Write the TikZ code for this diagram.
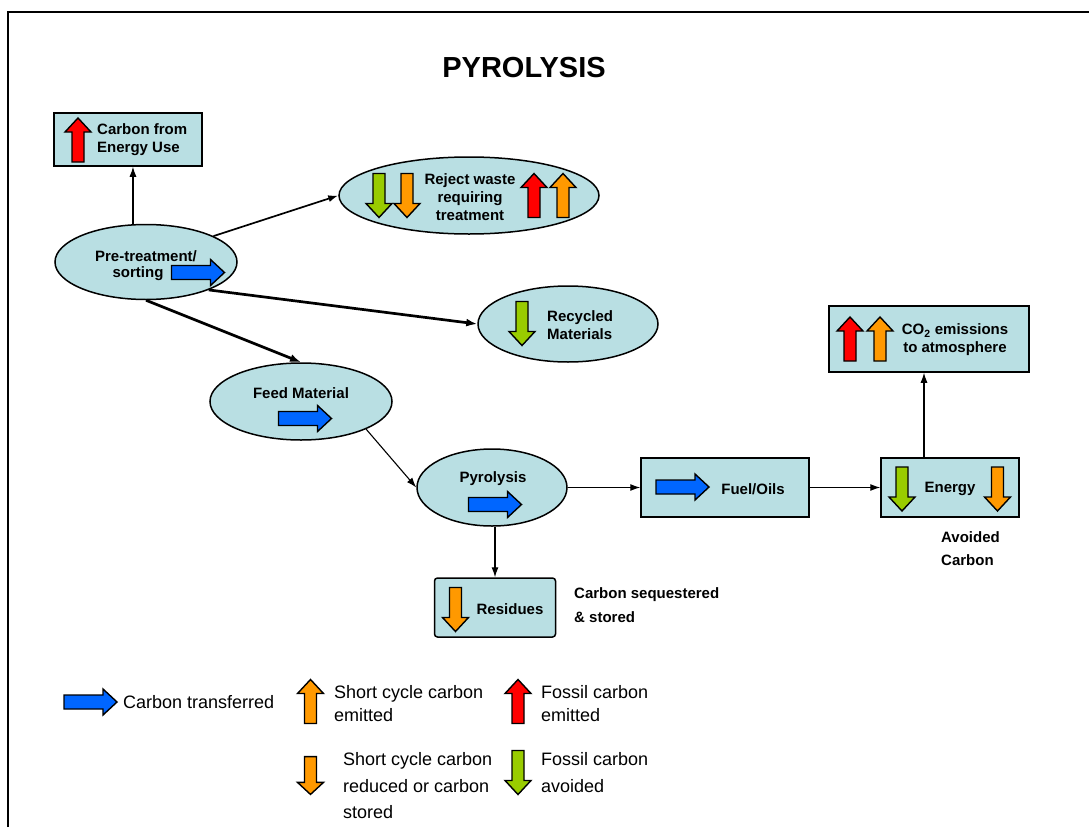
\documentclass[tikz,border=0pt]{standalone}
\usepackage{fontspec}
\setmainfont{Liberation Sans}
\usetikzlibrary{shapes.geometric,arrows.meta}
\definecolor{nodefill}{RGB}{185,223,227}
\definecolor{carbonblue}{RGB}{0,102,255}
\definecolor{fossilred}{RGB}{255,0,0}
\definecolor{shortorange}{RGB}{255,153,0}
\definecolor{avoidgreen}{RGB}{153,204,0}
\tikzset{
  arrline/.style={line width=1.4pt, line join=miter},
  pics/dnarr/.style={code={\draw[arrline, fill=#1] (-6,-22) -- (6,-22) -- (6,8) -- (13,8) -- (0,22) -- (-13,8) -- (-6,8) -- cycle;}},
  pics/uparr/.style={code={\draw[arrline, fill=#1] (-6,22) -- (6,22) -- (6,-8) -- (13,-8) -- (0,-22) -- (-13,-8) -- (-6,-8) -- cycle;}},
  pics/rtarr/.style={code={\draw[arrline, fill=#1] (-26.5,-7) -- (12.5,-7) -- (12.5,-13) -- (26.5,0) -- (12.5,13) -- (12.5,7) -- (-26.5,7) -- cycle;}},
  blob/.style={ellipse, draw, line width=1.5pt, fill=nodefill, inner sep=0},
  panel/.style={rectangle, draw, line width=1.5pt, fill=nodefill, inner sep=0},
  lbl/.style={font=\bfseries\fontsize{15}{18}\selectfont, align=center, inner sep=0},
  note/.style={font=\bfseries\fontsize{15}{23.5}\selectfont, align=left, inner sep=0, anchor=west},
  key/.style={font=\fontsize{18}{23}\selectfont, align=left, inner sep=0, anchor=west},
  link/.style={-{Latex[length=10pt,width=7pt]}, line width=1.1pt},
  mid/.style={link, line width=1.7pt},
  heavy/.style={-{Latex[length=11pt,width=8pt]}, line width=2.7pt}
}
\begin{document}
\begin{tikzpicture}[x=1pt,y=-1pt]
\useasboundingbox (0,0) rectangle (1089,827);
\draw[line width=1.5pt] (8,827) -- (8,12) -- (1089,12);

\node[font=\bfseries\fontsize{29}{34}\selectfont, inner sep=0] (title) at (524,68) {PYROLYSIS};

\node[panel, minimum width=148, minimum height=53] (energyuse) at (128,139.5) {};
\pic at (78,140) {uparr=fossilred};
\node[lbl, align=left, anchor=west] (energyusetext) at (97,139.5) {Carbon from\\Energy Use};

\node[blob, minimum width=182, minimum height=75] (pretreat) at (146,262) {};
\node[lbl] (pretreattext) at (146,256) {Pre-treatment/};
\node[lbl] (sortingtext) at (138,274) {sorting};
\pic at (198,272.5) {rtarr=carbonblue};

\node[blob, minimum width=260, minimum height=77] (reject) at (469,195.5) {};
\pic at (379,195.5) {dnarr=avoidgreen};
\pic at (407,195.5) {dnarr=shortorange};
\node[lbl] (rejecttext) at (470,197) {Reject waste\\requiring\\treatment};
\pic at (534,195.5) {uparr=fossilred};
\pic at (563,195.5) {uparr=shortorange};

\node[blob, minimum width=180, minimum height=76] (recycled) at (568,324) {};
\pic at (522,323.5) {dnarr=avoidgreen};
\node[lbl, align=left, anchor=west] (recycledtext) at (547,325.5) {Recycled\\Materials};

\node[blob, minimum width=182, minimum height=77] (feed) at (301,401.5) {};
\node[lbl] (feedtext) at (301,393) {Feed Material};
\pic at (305,418.5) {rtarr=carbonblue};

\node[blob, minimum width=150, minimum height=77] (pyro) at (492,487.5) {};
\node[lbl] (pyrotext) at (493,479) {Pyrolysis};
\pic at (495,504.5) {rtarr=carbonblue};

\node[panel, minimum width=168, minimum height=59] (fuel) at (725,487.5) {};
\pic at (682.5,487) {rtarr=carbonblue};
\node[lbl] (fueltext) at (753,489) {Fuel/Oils};

\node[panel, minimum width=138, minimum height=59] (energy) at (950,487.5) {};
\pic at (902,489) {dnarr=avoidgreen};
\node[lbl] (energytext) at (950,489) {Energy};
\pic at (997.5,489) {dnarr=shortorange};

\node[panel, minimum width=200, minimum height=66] (co2) at (929,339) {};
\pic at (850,339) {uparr=fossilred};
\pic at (880,339) {uparr=shortorange};
\node[lbl] (co2text) at (955,340) {CO\textsubscript{2} emissions\\to atmosphere};

\node[panel, rounded corners=3pt, minimum width=121, minimum height=59] (residues) at (495,607.5) {};
\pic at (455.5,609.5) {dnarr=shortorange};
\node[lbl] (residuestext) at (510,609) {Residues};

\node[note] (seqtext) at (574,605) {Carbon sequestered\\\& stored};
\node[note] (avoidtext) at (941,548.5) {Avoided\\Carbon};

\draw[link] (pretreat.109) -- (pretreat.109 |- energyuse.south);
\draw[mid] (pretreat.21) -- (reject.west);
\draw[heavy] (pretreat.-24) -- (recycled.west);
\draw[heavy] (pretreat.south) -- (feed.north);
\draw[link] (feed.-23) -- (pyro.west);
\draw[link] (pyro.east) -- (fuel.west);
\draw[link] (fuel.east) -- (energy.west);
\draw[link] ([xshift=-26pt]energy.north) -- ([xshift=-26pt]energy.north |- co2.south);
\draw[link] ([xshift=3pt]pyro.south) -- ([xshift=3pt]pyro.south |- residues.north);

\pic at (90.5,702) {rtarr=carbonblue};
\node[key] (transferkey) at (123,702) {Carbon transferred};
\pic at (310.5,701.5) {uparr=shortorange};
\node[key] (shortupkey) at (334,703.5) {Short cycle carbon\\emitted};
\pic at (518,701.5) {uparr=fossilred};
\node[key] (fossilupkey) at (541,703.5) {Fossil carbon\\emitted};
\pic[yscale=0.86] at (310.5,775.5) {dnarr=shortorange};
\node[key, font=\fontsize{18}{26.5}\selectfont] (shortdnkey) at (343,786) {Short cycle carbon\\reduced or carbon\\stored};
\pic at (518,772.5) {dnarr=avoidgreen};
\node[key, font=\fontsize{18}{27}\selectfont] (fossildnkey) at (541,772.5) {Fossil carbon\\avoided};
\end{tikzpicture}
\end{document}
